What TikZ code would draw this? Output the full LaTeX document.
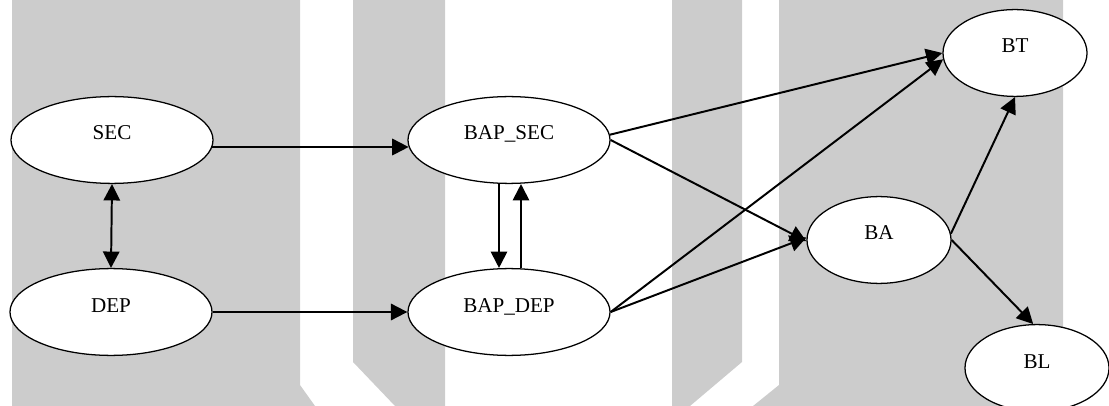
\documentclass[tikz,border=0pt]{standalone}
\usepackage{fontspec}
\setmainfont{Liberation Serif}
\definecolor{wmgray}{RGB}{204,204,204}
\usetikzlibrary{arrows.meta,shapes.geometric}

\begin{document}
\begin{tikzpicture}[x=0.025cm,y=-0.025cm,
    >={Triangle[length=0.41cm,width=0.41cm]},
    var/.style={draw,ellipse,fill=white,line width=0.9pt,inner sep=0pt,
        minimum width=5.05cm,minimum height=2.17cm,
        font=\fontsize{15}{18}\selectfont,text height=0.4cm,text depth=0.4cm},
    varsm/.style={var,minimum width=3.6cm},
    link/.style={->,line width=1.4pt}]
  \useasboundingbox (0,0) rectangle (1109,406);
  %% watermark bands behind the model
  \fill[wmgray] (12,0) -- (300,0) -- (300,385) -- (315,406) -- (12,406) -- cycle;
  \fill[wmgray] (353,0) -- (445,0) -- (445,406) -- (395,406) -- (353,362) -- cycle;
  \fill[wmgray] (672,0) -- (742,0) -- (742,362) -- (690,406) -- (672,406) -- cycle;
  \fill[wmgray] (779,0) -- (1063,0) -- (1063,406) -- (753,406) -- (779,385) -- cycle;

  %% constructs
  \node[var] (sec) at (112,140) {SEC};
  \node[var] (dep) at (111,312) {DEP};
  \node[var] (bapsec) at (509,140) {BAP\_SEC};
  \node[var] (bapdep) at (509,312) {BAP\_DEP};
  \node[varsm] (bt) at (1015,53) {BT};
  \node[varsm] (ba) at (879,240) {BA};
  \node[varsm] (bl) at (1037,368) {BL};

  %% paths
  \draw[link,<->] (sec.south) -- (dep.north);
  \draw[link] (sec.-4) -- (bapsec.184);
  \draw[link] (dep.east) -- (bapdep.west);
  \draw[link] ([xshift=-0.25cm]bapsec.south) -- ([xshift=-0.25cm]bapdep.north);
  \draw[link] ([xshift=0.3cm]bapdep.north) -- ([xshift=0.3cm]bapsec.south);
  \draw[link] (bapsec.3) -- (bt.west);
  \draw[link] (bapsec.east) -- (ba.181);
  \draw[link] (bapdep.east) -- (bt.185);
  \draw[link] (bapdep.east) -- (ba.178);
  \draw[link] (ba.5) -- (bt.south);
  \draw[link] (ba.east) -- (bl.95);
\end{tikzpicture}
\end{document}
